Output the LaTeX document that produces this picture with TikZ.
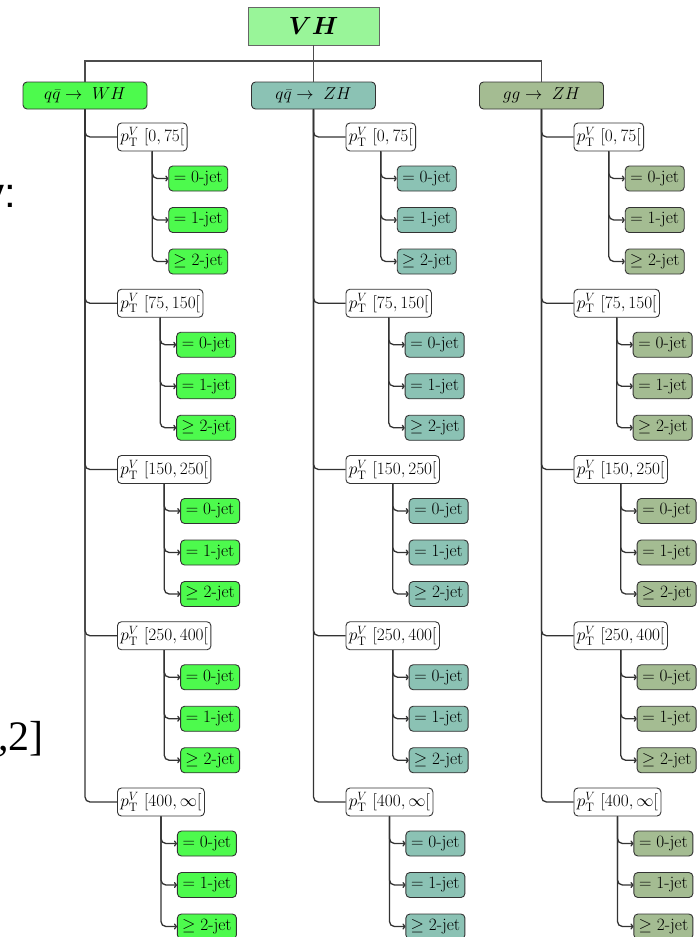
\documentclass[tikz,border=0pt]{standalone}
\usepackage{fontspec}
\usepackage{amsmath,bm}
\newfontfamily\sansfrag{Liberation Sans}
\newfontfamily\seriffrag{Liberation Serif}
\usetikzlibrary{arrows.meta}
\definecolor{vhc}{RGB}{153,245,153}
\definecolor{whc}{RGB}{77,250,77}
\definecolor{zhc}{RGB}{139,194,180}
\definecolor{ggc}{RGB}{164,188,146}
\begin{document}
\begin{tikzpicture}[x=1pt,y=-1pt, font=\fontsize{17.5}{20}\selectfont,
  box/.style={draw=black!80, line width=0.9pt, rounded corners=4pt, inner xsep=2pt, inner ysep=0pt},
  vhbox/.style={draw=black!60, fill=vhc, line width=0.9pt, minimum width=131pt, minimum height=38pt, inner sep=0pt, font=\fontsize{26}{30}\selectfont},
  catbox/.style={box, minimum width=124pt, minimum height=27pt, font=\fontsize{18.5}{21}\selectfont},
  ptbox/.style={box, fill=white, minimum height=28pt, inner xsep=3pt},
  jetbox/.style={box, minimum width=59pt, minimum height=25pt},
  link/.style={draw=black!80, line width=1.3pt},
  elbow/.style={link, rounded corners=5pt},
  arr/.style={elbow, -{To[length=3pt,width=6pt]}},
  frag/.style={anchor=base east, inner sep=0pt}
]
\useasboundingbox (0,0) rectangle (697,937);

\node[vhbox] (VH) at (313.5,26) {$\bm{VH}$};
\node[catbox, fill=whc] (cW) at (85,95.5) {$q\bar{q}\rightarrow\;WH$};
\node[catbox, fill=zhc] (cZ) at (313.5,95.5) {$q\bar{q}\rightarrow\;ZH$};
\node[catbox, fill=ggc] (cG) at (541.5,95.5) {$gg\rightarrow\;ZH$};

\coordinate (hb) at (0,61);
\draw[link, black!70, line width=1.1pt] (VH.south) -- (VH.south |- hb) -| (cW.north);
\draw[link, black!70, line width=1.1pt] (VH.south |- hb) -| (cG.north);
\draw[link, black!70, line width=1.1pt] (VH.south |- hb) -- (cZ.north);

\foreach \c/\x/\f in {W/85/whc,Z/313.5/zhc,G/541.5/ggc}{
  \foreach \lab [count=\i] in {{0,75},{75,150},{150,250},{250,400},{400,\infty}}{
    \pgfmathsetmacro{\yy}{137+166.25*(\i-1)}
    \node[ptbox, anchor=west] (p\c\i) at (\x+32,\yy) {$p_{\mathrm{T}}^{V}$ $[\lab[$};
    \draw[elbow] (c\c.south) |- (p\c\i.west);
    \path (p\c\i.south) ++(16,0) coordinate (t\c\i);
    \foreach \j/\jt in {1/{$=0$-jet},2/{$=1$-jet},3/{$\geq 2$-jet}}{
      \pgfmathsetmacro{\jy}{\yy+41.5*\j}
      \coordinate (r\c\i\j) at (0,\jy);
      \node[jetbox, fill=\f, anchor=west] (j\c\i\j) at (t\c\i |- r\c\i\j) {\jt};
      \draw[arr] (p\c\i.south) |- (j\c\i\j.west);
    }
  }
}

\node[frag, font=\sansfrag\fontsize{42}{42}\selectfont] (fy) at (16,207) {y:};
\node[frag, font=\seriffrag\fontsize{42}{42}\selectfont] (f2) at (44,750) {,2]};
\end{tikzpicture}
\end{document}
